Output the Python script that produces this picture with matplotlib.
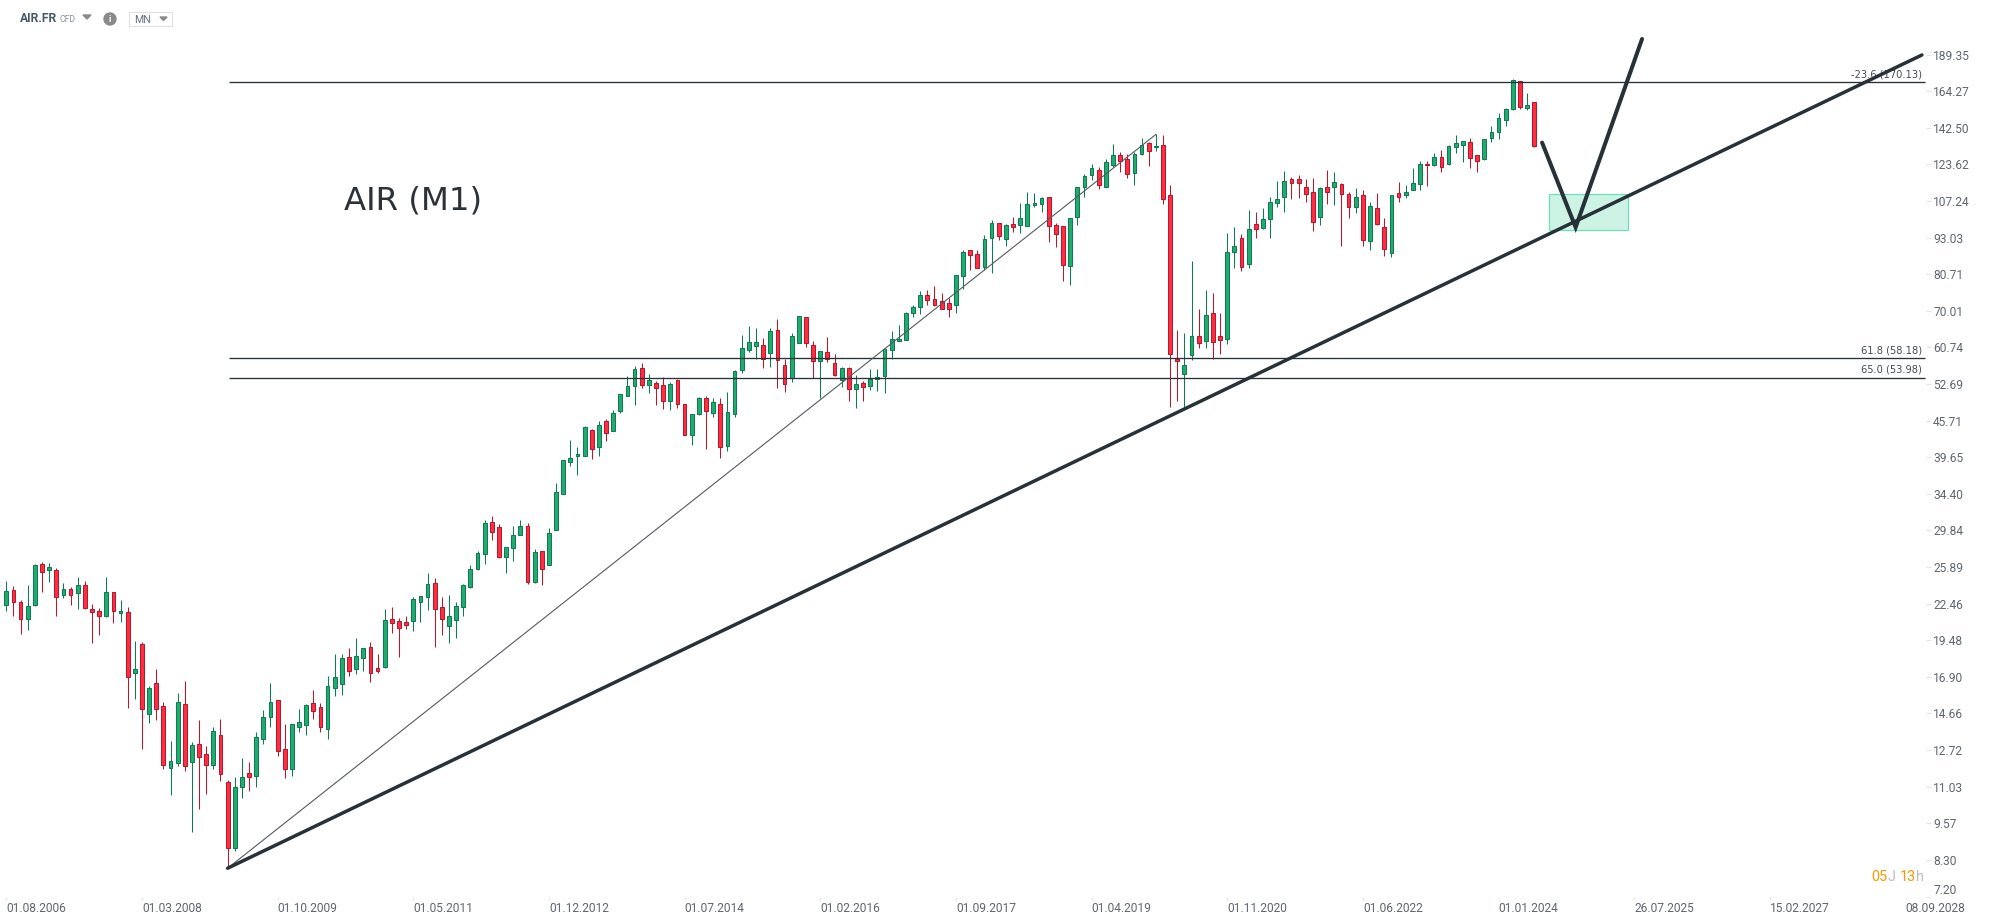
# plot.py
# AIR.FR monthly candles with fibo levels and trend lines
import numpy as np
import matplotlib.pyplot as plt
from matplotlib.patches import Rectangle, Circle, Polygon

# ------------------------------
# 1. Data (one candle per month, from 01.08.2006)
# ------------------------------
opens = [
    22.37, 23.65, 22.57, 21.19, 22.37, 26.15, 25.62, 25.56, 23.19, 23.74,
    23.37, 24.11, 21.97, 21.80, 21.43, 23.47, 21.63, 21.72, 17.18, 19.18,
    14.61, 16.48, 15.08, 11.86, 12.12, 15.20, 12.16, 13.01, 12.51, 12.02,
    13.47, 11.23, 8.71, 11.00, 11.63, 11.52, 13.30, 14.48, 15.43, 12.75,
    11.80, 13.93, 14.04, 15.25, 15.02, 13.82, 16.16, 16.46, 18.23, 17.41,
    18.16, 18.95, 17.47, 17.59, 21.13, 20.97, 20.89, 20.97, 22.57, 23.01,
    24.29, 22.14, 20.59, 21.05, 22.14, 23.93, 25.66, 27.27, 30.80, 30.21,
    26.95, 27.84, 29.28, 30.32, 24.45, 27.52, 26.06, 29.85, 34.33, 38.99,
    39.79, 39.79, 44.00, 41.20, 45.57, 43.84, 47.40, 50.24, 52.23, 56.00,
    52.43, 52.83, 52.43, 49.27, 53.45, 48.71, 43.17, 46.85, 49.85, 47.03,
    48.71, 41.37, 46.85, 55.57, 60.03, 60.97, 61.21, 59.33, 64.90, 56.66,
    53.87, 61.68, 68.26, 61.21, 57.56, 59.56, 57.10, 53.45, 56.00, 51.63,
    52.83, 52.23, 53.66, 54.29, 60.03, 62.17, 62.42, 69.33, 71.04, 74.35,
    73.20, 72.63, 72.07, 71.59, 80.03, 88.47, 87.15, 82.9, 92.8, 98.3,
    92.5, 97.9, 97.5, 97.2, 105.4, 105.8, 108.8, 97.5, 97.2, 83.2,
    100.6, 113.4, 118.4, 120.7, 113.4, 123.1, 128.0, 126.0, 119.4, 128.5,
    134.1, 132.0, 133.5, 109.9, 58.0, 54.7, 58.9, 63.6, 62.2, 69.3,
    63.4, 62.7, 87.8, 92.7, 83.9, 97.9, 96.6, 99.9, 106.2, 109.1,
    116.7, 116.7, 113.0, 111.2, 100.6, 113.4, 113.0, 114.4, 110.0, 104.6,
    109.6, 91.7, 104.2, 96.8, 87.5, 110.4, 109.6, 111.7, 114.4, 124.0,
    123.1, 127.0, 123.6, 132.0, 133.5, 134.6, 128.0, 126.0, 136.7, 139.9,
    146.7, 153.1, 170.6, 153.7, 157.3,
]
closes = [
    23.56, 22.57, 21.13, 22.23, 26.05, 25.36, 25.85, 23.07, 23.74, 23.25,
    24.11, 22.11, 21.72, 21.43, 23.47, 21.86, 21.80, 16.92, 17.41, 14.94,
    16.16, 14.94, 11.98, 12.18, 15.31, 11.94, 12.96, 12.40, 11.98, 13.68,
    11.61, 8.71, 11.01, 11.45, 11.45, 13.37, 14.44, 15.31, 12.69, 11.84,
    14.05, 14.17, 15.14, 14.83, 13.93, 16.29, 16.88, 18.16, 17.27, 18.30,
    18.87, 17.18, 17.31, 21.05, 20.86, 20.47, 20.70, 22.83, 23.10, 24.21,
    21.97, 21.13, 21.38, 22.23, 24.11, 25.66, 27.29, 30.68, 29.70, 26.95,
    27.95, 29.28, 30.32, 24.45, 27.41, 25.73, 29.51, 34.60, 39.20, 39.59,
    40.10, 44.52, 40.88, 44.87, 43.50, 47.03, 50.62, 52.23, 55.79, 52.43,
    53.45, 51.83, 49.27, 52.62, 48.71, 43.17, 46.85, 49.85, 47.40, 49.08,
    41.21, 47.21, 55.35, 60.51, 61.92, 61.92, 58.00, 64.65, 57.78, 52.62,
    63.41, 68.53, 61.68, 57.56, 59.79, 58.00, 54.50, 56.00, 51.63, 52.62,
    52.03, 53.80, 54.08, 60.28, 62.83, 62.67, 69.33, 71.04, 74.35, 72.93,
    71.59, 70.41, 70.41, 80.35, 87.8, 86.8, 82.5, 92.5, 98.3, 93.5,
    97.5, 96.8, 100.3, 105.8, 106.2, 108.4, 97.2, 94.2, 83.5, 100.3,
    113.3, 118.0, 121.7, 114.3, 124.6, 128.0, 125.1, 118.9, 128.5, 133.5,
    130.0, 132.8, 108.0, 59.2, 57.6, 56.7, 63.6, 61.7, 68.8, 61.9,
    62.4, 87.8, 89.9, 82.9, 96.3, 96.3, 99.9, 106.6, 108.1, 115.7,
    114.9, 114.9, 110.0, 98.7, 112.6, 111.2, 115.2, 110.0, 104.8, 109.1,
    92.0, 105.0, 97.9, 89.0, 109.6, 108.7, 111.2, 114.9, 124.0, 123.1,
    127.0, 122.2, 132.5, 134.1, 135.6, 126.5, 125.4, 136.2, 139.9, 147.8,
    153.1, 171.2, 154.3, 155.5, 132.6,
]
highs = [
    24.51, 24.05, 22.76, 24.14, 26.15, 26.36, 26.29, 25.76, 24.32, 23.96,
    24.90, 24.49, 22.40, 22.06, 24.90, 23.47, 22.76, 22.14, 19.43, 19.33,
    16.29, 17.41, 15.31, 13.18, 15.86, 16.61, 13.11, 14.29, 12.91, 13.89,
    14.33, 11.32, 11.45, 12.32, 12.13, 13.63, 14.84, 16.48, 15.43, 14.05,
    14.05, 14.90, 15.20, 16.04, 15.25, 16.94, 18.45, 18.45, 18.90, 19.63,
    18.87, 19.33, 18.45, 21.97, 22.14, 21.22, 21.38, 23.01, 23.10, 25.26,
    24.78, 23.01, 23.19, 22.57, 24.21, 26.05, 27.50, 31.04, 31.52, 30.56,
    27.95, 30.32, 31.04, 30.68, 27.73, 27.52, 30.09, 35.83, 39.20, 42.33,
    41.20, 44.69, 44.17, 45.57, 45.93, 47.58, 50.62, 54.29, 56.44, 57.10,
    54.71, 53.24, 54.08, 53.03, 53.66, 48.71, 46.85, 50.04, 50.24, 49.85,
    49.85, 51.03, 55.57, 63.65, 65.91, 65.41, 62.90, 65.41, 67.72, 58.00,
    64.15, 68.53, 68.26, 62.17, 59.79, 63.15, 59.10, 56.22, 56.22, 54.50,
    53.24, 55.79, 55.79, 60.51, 64.65, 66.17, 69.60, 71.59, 75.53, 75.83,
    76.96, 74.92, 73.48, 80.35, 88.8, 88.47, 88.8, 94.0, 99.45, 98.3,
    97.9, 100.6, 106.2, 110.9, 110.5, 108.8, 108.8, 98.3, 97.2, 100.3,
    113.3, 118.9, 123.6, 122.2, 126.0, 133.7, 129.5, 128.5, 129.5, 136.7,
    134.6, 138.8, 138.3, 113.9, 65.0, 64.1, 84.9, 70.4, 75.8, 74.9,
    69.3, 94.6, 96.8, 94.2, 103.7, 102.6, 104.2, 109.1, 115.7, 120.3,
    117.6, 118.4, 116.7, 117.1, 113.4, 120.8, 119.8, 114.9, 111.2, 112.6,
    111.7, 107.0, 110.4, 100.2, 109.6, 115.2, 113.9, 121.7, 125.4, 125.0,
    129.0, 130.5, 133.5, 138.3, 135.6, 136.7, 128.0, 136.2, 143.3, 150.6,
    153.7, 171.9, 170.6, 163.0, 157.3,
]
lows = [
    21.86, 21.40, 19.98, 20.27, 22.28, 23.53, 24.45, 21.43, 22.98, 22.37,
    22.03, 22.03, 19.30, 19.87, 21.35, 20.86, 20.94, 14.99, 15.53, 12.77,
    14.15, 14.31, 11.80, 10.69, 11.94, 11.71, 9.26, 10.12, 10.74, 11.84,
    11.30, 8.05, 8.61, 10.54, 10.83, 11.04, 13.04, 13.93, 12.45, 11.43,
    11.48, 13.66, 13.51, 14.37, 13.66, 13.30, 15.70, 15.76, 16.96, 17.10,
    17.29, 16.57, 17.16, 17.52, 20.03, 18.26, 20.38, 20.20, 20.92, 21.95,
    19.00, 19.87, 19.30, 19.65, 21.38, 23.90, 25.62, 26.23, 28.79, 26.85,
    25.33, 26.55, 29.28, 24.25, 24.30, 24.15, 26.06, 29.85, 34.33, 38.37,
    36.96, 39.79, 39.41, 39.90, 42.28, 43.84, 47.03, 50.24, 48.58, 51.83,
    50.96, 48.58, 47.82, 47.64, 48.01, 43.17, 41.59, 46.67, 40.95, 46.31,
    39.54, 40.63, 46.43, 55.07, 59.56, 58.00, 56.07, 56.37, 51.97, 51.16,
    53.17, 61.68, 60.91, 53.87, 49.98, 57.40, 54.36, 52.16, 49.40, 48.01,
    49.40, 51.50, 51.30, 50.96, 58.00, 62.17, 62.42, 68.26, 69.15, 71.57,
    71.30, 70.41, 68.44, 69.51, 76.1, 82.07, 82.5, 81.9, 81.2, 92.0,
    90.2, 95.0, 94.6, 97.2, 104.9, 102.9, 91.6, 89.8, 78.7, 77.5,
    97.8, 108.9, 116.2, 112.4, 113.0, 122.5, 119.8, 117.4, 114.2, 128.0,
    122.7, 130.3, 105.8, 48.15, 49.4, 48.15, 57.8, 60.6, 60.6, 58.0,
    59.2, 61.6, 82.7, 81.8, 82.5, 92.9, 96.1, 92.9, 104.6, 102.7,
    108.2, 108.4, 106.8, 95.4, 97.7, 105.9, 105.5, 90.1, 100.3, 102.3,
    90.1, 88.7, 97.7, 86.6, 86.3, 107.0, 108.6, 111.7, 111.9, 113.7,
    122.7, 119.8, 123.4, 129.0, 124.8, 121.7, 120.0, 125.7, 134.8, 136.4,
    143.5, 152.5, 153.5, 152.9, 132.1,
]

price_ticks = [7.20, 8.30, 9.57, 11.03, 12.72, 14.66, 16.90, 19.48, 22.46, 25.89,
               29.84, 34.40, 39.65, 45.71, 52.69, 60.74, 70.01, 80.71, 93.03,
               107.24, 123.62, 142.50, 164.27, 189.35]
date_labels = ["01.08.2006", "01.03.2008", "01.10.2009", "01.05.2011", "01.12.2012",
               "01.07.2014", "01.02.2016", "01.09.2017", "01.04.2019", "01.11.2020",
               "01.06.2022", "01.01.2024", "26.07.2025", "15.02.2027", "08.09.2028"]
months_between_dates = 19

fib_prices = [170.13, 58.18, 53.98]
fib_labels = ["-23.6 (170.13)", "61.8 (58.18)", "65.0 (53.98)"]

# drawn objects: month number and price
trend_months = [31, 268.3]
trend_prices = [8.04, 189.0]
thin_months = [31, 161]
thin_prices = [8.04, 138.8]
path_months = [215.1, 219.8, 229.1]
path_prices = [134.5, 96.8, 201.1]
box_months = [216.1, 227.1]
box_prices = [95.7, 110.05]

GREEN = "#21ab6e"
GREEN_EDGE = "#0e7c52"
RED = "#ff2d40"
RED_EDGE = "#b5182f"
DARK = "#263238"
TEXT = "#5f6670"
W, H = 1993, 922

plt.rcParams["font.family"] = ["Roboto", "DejaVu Sans"]

# ------------------------------
# 2. Axes: chart area in pixels is x 0..1926, y 0..897
# ------------------------------
fig = plt.figure(figsize=(W / 100, H / 100), dpi=100)
ax = fig.add_axes([0, 1 - 897 / H, 1926 / W, 897 / H])
ax.set_yscale("log")
ax.set_xlim(-0.882, 268.87)
ax.set_ylim(7.19, 233.97)
for s in ax.spines.values():
    s.set_visible(False)

# ------------------------------
# 3. Candles
# ------------------------------
x = np.arange(len(opens))
o = np.array(opens)
c = np.array(closes)
up = c >= o
for mask, fill, edge in [(up, GREEN, GREEN_EDGE), (~up, RED, RED_EDGE)]:
    ax.vlines(x[mask], np.array(lows)[mask], np.array(highs)[mask], color=edge, lw=0.75, zorder=2)
    bottoms = np.minimum(o, c)[mask]
    tops = np.maximum(o, c)[mask]
    ax.bar(x[mask], tops - bottoms, bottom=bottoms, width=0.53, color=fill,
           edgecolor=edge, linewidth=0.72, zorder=3)

# ------------------------------
# 4. Levels, trend lines, target box
# ------------------------------
ax.add_patch(Rectangle((box_months[0], box_prices[0]), box_months[1] - box_months[0],
                       box_prices[1] - box_prices[0], facecolor="#cdf3e5",
                       edgecolor="#6ddfb9", lw=0.9, zorder=4))
ax.hlines(fib_prices, 31.2, 268.7, color=DARK, lw=0.95, zorder=5)
for price, label in zip(fib_prices, fib_labels):
    ax.annotate(label, (1922 / W, price), xycoords=("figure fraction", "data"),
                xytext=(0, 2), textcoords="offset points", ha="right", va="bottom",
                fontsize=7.1, color="#444b52", family="DejaVu Sans", zorder=6)
ax.plot(thin_months, thin_prices, color="#555b60", lw=0.8, zorder=5)
ax.plot(trend_months, trend_prices, color=DARK, lw=2.5, solid_capstyle="round", zorder=6)
ax.plot(path_months, path_prices, color=DARK, lw=2.9, solid_capstyle="round",
        solid_joinstyle="miter", zorder=6)

# ------------------------------
# 5. Ticks and labels
# ------------------------------
ax.yaxis.tick_right()
ax.minorticks_off()
ax.set_yticks(price_ticks)
ax.set_yticklabels(["%.2f" % p for p in price_ticks])
ax.minorticks_off()
ax.tick_params(axis="y", length=3.6, width=0.8, color="#e4e4e4", pad=1.5,
               labelsize=8.64, labelcolor=TEXT)
ax.yaxis.get_major_ticks()[0].label2.set_va("bottom")

ax.set_xticks(np.arange(len(date_labels)) * months_between_dates)
ax.set_xticklabels(date_labels, ha="left")
ax.tick_params(axis="x", length=2.2, width=0.8, color="#e4e4e4", pad=1.5,
               labelsize=8.64, labelcolor=TEXT)

ax.text(344 / 1926, 1 - 201 / 897, "AIR (M1)", transform=ax.transAxes, fontsize=23.3,
        color="#2b3238", family="DejaVu Sans", va="center", ha="left")


# ------------------------------
# 6. Header and countdown (screen furniture, placed in pixels)
# ------------------------------
def fx(px):
    return px / W


def fy(py):
    return 1 - py / H


fig.text(fx(20), fy(19), "AIR.FR", fontsize=8.7, fontweight="bold", color="#455a64", va="center")
fig.text(fx(60), fy(19), "CFD", fontsize=6.2, color="#8a9299", va="center")
fig.add_artist(Polygon([[fx(83), fy(15)], [fx(91), fy(15)], [fx(87), fy(19)]],
                       transform=fig.transFigure, color="#8a8a8a"))
fig.add_artist(Circle((110, H - 19), 6, transform=None, color="#8a8a8a"))
fig.text(fx(110), fy(19), "i", fontsize=6.5, fontweight="bold", color="white", ha="center", va="center")
fig.add_artist(Rectangle((fx(128.5), fy(26)), 43 / W, 14 / H, transform=fig.transFigure,
                         facecolor="white", edgecolor="#e0e0e0", lw=0.8))
fig.text(fx(134), fy(20), "MN", fontsize=7.6, color="#66707a", va="center")
fig.add_artist(Polygon([[fx(160), fy(17)], [fx(167), fy(17)], [fx(163.5), fy(20.5)]],
                       transform=fig.transFigure, color="#8a8a8a"))

renderer = fig.canvas.get_renderer()
pos = 1871.7
for piece, col in [("05", "#ff9800"), ("J ", "#bdbdbd"), ("13", "#ff9800"), ("h", "#bdbdbd")]:
    t = fig.text(fx(pos), fy(876.7), piece.strip(), fontsize=10.4, color=col, va="center")
    pos = t.get_window_extent(renderer).x1 + (3.5 if piece.endswith(" ") else 0.3)

fig.savefig("out.png", dpi=100, facecolor="white")
